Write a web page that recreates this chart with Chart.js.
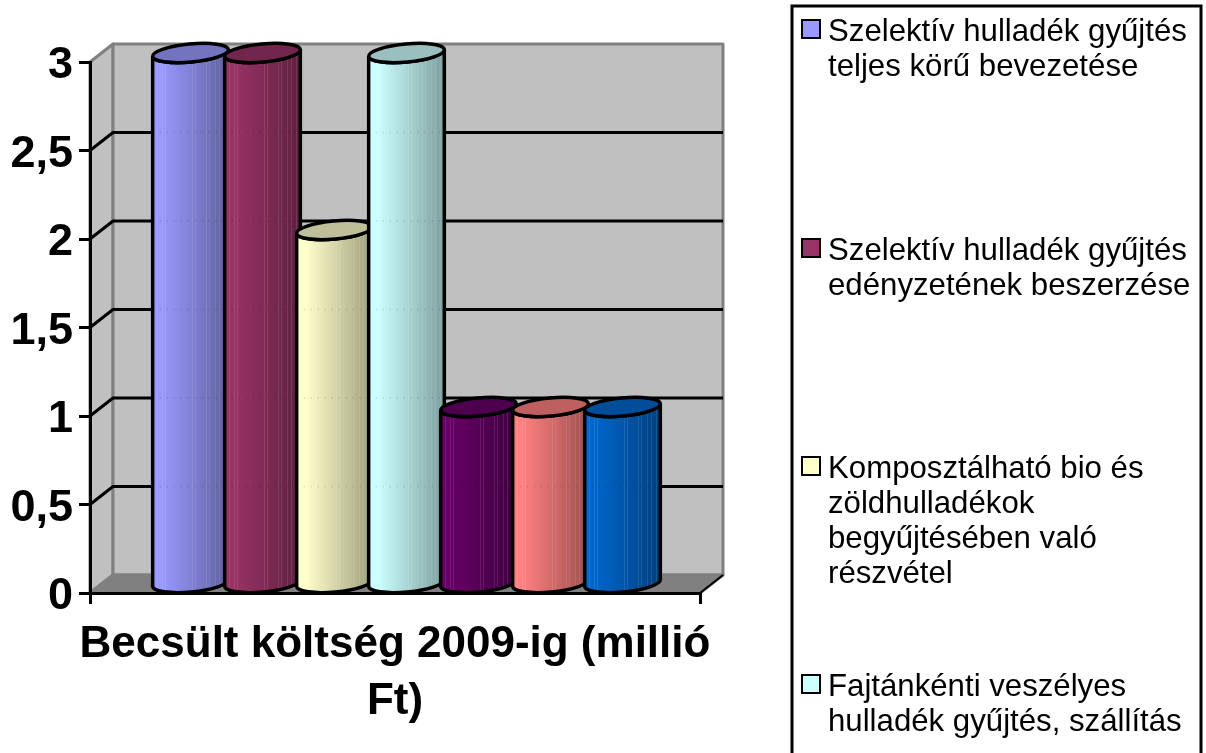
<!DOCTYPE html>
<html>
<head>
<meta charset="utf-8">
<title>Becsült költség</title>
<script src="https://cdn.jsdelivr.net/npm/chart.js@4"></script>
<style>
    html, body { margin: 0; padding: 0; background: #fff; overflow: hidden; }
    #wrap { position: relative; width: 1206px; height: 753px; }
</style>
</head>
<body>
<div id="wrap"><canvas id="chart"></canvas></div>
<script>
const categoryLabel = ["Becsült költség 2009-ig (millió", "Ft)"];
const seriesNames = [
    ["Szelektív hulladék gyűjtés", "teljes körű bevezetése"],
    ["Szelektív hulladék gyűjtés", "edényzetének beszerzése"],
    ["Komposztálható bio és", "zöldhulladékok", "begyűjtésében való", "részvétel"],
    ["Fajtánkénti veszélyes", "hulladék gyűjtés, szállítás"],
];
const seriesValues = [3, 3, 2, 3, 1, 1, 1];
const seriesColors = ["#9999FF", "#993366", "#FFFFCC", "#CCFFFF", "#660066", "#FF8080", "#0066CC"];
const gridValues = [0.5, 1, 1.5, 2, 2.5];
const legendBaselines = [41, 260, 478, 696];

const DEPTH_X = 23;
const DEPTH_Y = 18;
const TILT = -5.3 * Math.PI / 180;
const STREAKS = [0.06, 0.12, 0.16, 0.52, 0.56, 0.7, 0.74, 0.82, 0.88, 0.94];

function shade(hex, f) {
    const n = parseInt(hex.slice(1), 16);
    const r = Math.round((n >> 16 & 255) * f);
    const g = Math.round((n >> 8 & 255) * f);
    const b = Math.round((n & 255) * f);
    return `rgb(${r}, ${g}, ${b})`;
}

function drawWalls(chart) {
    const ctx = chart.ctx;
    const { left, right, top, bottom } = chart.chartArea;
    const y = chart.scales.y;
    const dx = DEPTH_X, dy = DEPTH_Y;

    ctx.save();
    ctx.fillStyle = "#C0C0C0";
    ctx.strokeStyle = "#808080";
    ctx.lineWidth = 3;
    ctx.lineJoin = "round";

    // side wall
    ctx.beginPath();
    ctx.moveTo(left, top);
    ctx.lineTo(left + dx, top - dy);
    ctx.lineTo(left + dx, bottom - dy);
    ctx.lineTo(left, bottom);
    ctx.closePath();
    ctx.fill();
    ctx.stroke();

    // back wall
    ctx.beginPath();
    ctx.rect(left + dx, top - dy, right - left, bottom - top);
    ctx.fill();
    ctx.stroke();

    // floor
    ctx.fillStyle = "#808080";
    ctx.beginPath();
    ctx.moveTo(left, bottom);
    ctx.lineTo(left + dx, bottom - dy);
    ctx.lineTo(right + dx, bottom - dy);
    ctx.lineTo(right, bottom);
    ctx.closePath();
    ctx.fill();
    ctx.stroke();

    ctx.strokeStyle = "#000";
    ctx.lineWidth = 2;
    ctx.beginPath();
    ctx.moveTo(right, bottom);
    ctx.lineTo(right + dx, bottom - dy);
    ctx.stroke();

    // gridlines
    ctx.lineWidth = 3;
    gridValues.forEach(v => {
        const py = y.getPixelForValue(v);
        ctx.beginPath();
        ctx.moveTo(left, py);
        ctx.lineTo(left + dx, py - dy);
        ctx.lineTo(right + dx, py - dy);
        ctx.stroke();
    });
    ctx.restore();
}

function drawCylinder(ctx, bar, yScale, color) {
    const base = yScale.getPixelForValue(0);
    const cx = bar.x + DEPTH_X / 2;
    const rx = bar.width / 2 + 2;
    const ry = 9;
    const topY = bar.y - DEPTH_Y / 2;
    const botY = base - DEPTH_Y / 2 - 1;
    const xl = cx - rx * Math.cos(TILT);
    const xr = cx + rx * Math.cos(TILT);

    const grad = ctx.createLinearGradient(xl, 0, xr, 0);
    grad.addColorStop(0, shade(color, 1));
    grad.addColorStop(0.12, shade(color, 1));
    grad.addColorStop(0.5, shade(color, 0.84));
    grad.addColorStop(1, shade(color, 0.62));

    const body = new Path2D();
    body.ellipse(cx, botY, rx, ry, TILT, Math.PI, 0, true);
    body.ellipse(cx, topY, rx, ry, TILT, 0, Math.PI, false);
    body.closePath();

    ctx.save();
    ctx.fillStyle = grad;
    ctx.fill(body);

    // banding of the cylinder faces, and the gridlines dotted through them
    ctx.save();
    ctx.clip(body);
    ctx.strokeStyle = "rgba(255, 255, 255, 0.1)";
    ctx.lineWidth = 1;
    STREAKS.forEach(s => {
        const sx = Math.round(xl + (xr - xl) * s) + 0.5;
        ctx.beginPath();
        ctx.moveTo(sx, topY);
        ctx.lineTo(sx, botY + ry + 4);
        ctx.stroke();
    });
    ctx.strokeStyle = "rgba(0, 0, 0, 0.15)";
    ctx.lineWidth = 2;
    ctx.setLineDash([1, 6]);
    gridValues.forEach(v => {
        const py = yScale.getPixelForValue(v) - DEPTH_Y;
        ctx.beginPath();
        ctx.moveTo(xl, py);
        ctx.lineTo(xr, py);
        ctx.stroke();
    });
    ctx.restore();

    ctx.strokeStyle = "#000";
    ctx.lineWidth = 3.5;
    ctx.stroke(body);

    ctx.beginPath();
    ctx.ellipse(cx, topY, rx, ry, TILT, 0, Math.PI * 2);
    ctx.fillStyle = shade(color, 0.75);
    ctx.fill();
    ctx.stroke();
    ctx.restore();
}

function drawLegend(chart) {
    const ctx = chart.ctx;
    ctx.save();
    ctx.strokeStyle = "#000";
    ctx.lineWidth = 3;
    ctx.strokeRect(792, 6, 409, 760);

    ctx.font = "31.2px 'Liberation Sans'";
    ctx.textAlign = "left";
    ctx.textBaseline = "alphabetic";
    seriesNames.forEach((lines, i) => {
        const base = legendBaselines[i];
        ctx.fillStyle = seriesColors[i];
        ctx.fillRect(802, base - 21, 18, 18);
        ctx.lineWidth = 2;
        ctx.strokeRect(802, base - 21, 18, 18);
        ctx.fillStyle = "#000";
        lines.forEach((line, k) => ctx.fillText(line, 828, base + k * 35));
    });
    ctx.restore();
}

const cylinderPlugin = {
    id: "cylinders",
    beforeDraw(chart) {
        drawWalls(chart);
    },
    beforeDatasetDraw() {
        return false;
    },
    afterDatasetsDraw(chart) {
        chart.data.datasets.forEach((ds, i) => {
            drawCylinder(chart.ctx, chart.getDatasetMeta(i).data[0], chart.scales.y, seriesColors[i]);
        });
    },
    afterDraw(chart) {
        drawLegend(chart);
    },
};

new Chart(document.getElementById("chart"), {
    type: "bar",
    plugins: [cylinderPlugin],
    data: {
        labels: [categoryLabel],
        datasets: seriesValues.map((v, i) => ({
            label: seriesNames[i] ? seriesNames[i].join(" ") : "",
            data: [v],
            backgroundColor: seriesColors[i],
        })),
    },
    options: {
        responsive: true,
        maintainAspectRatio: false,
        animation: false,
        events: [],
        devicePixelRatio: 1,
        layout: { padding: { left: 0, top: 62, right: 506, bottom: 0 } },
        datasets: { bar: { categoryPercentage: 504 / 610, barPercentage: 1 } },
        plugins: {
            legend: { display: false },
            title: { display: false },
            tooltip: { enabled: false },
        },
        scales: {
            x: {
                afterFit(scale) { scale.height = 160; },
                border: { color: "#000", width: 3 },
                grid: { drawOnChartArea: false, color: "#000", lineWidth: 3, tickLength: 11 },
                ticks: {
                    color: "#000",
                    maxRotation: 0,
                    minRotation: 0,
                    padding: 13,
                    font: { family: "'Liberation Sans'", size: 44, weight: "bold", lineHeight: 1.28 },
                },
            },
            y: {
                min: 0,
                max: 3,
                afterFit(scale) { scale.width = 90; },
                border: { color: "#000", width: 3 },
                grid: { drawOnChartArea: false, color: "#000", lineWidth: 3, tickLength: 11 },
                ticks: {
                    stepSize: 0.5,
                    color: "#000",
                    padding: 6,
                    labelOffset: 4,
                    font: { family: "'Liberation Sans'", size: 45, weight: "bold" },
                    callback: v => String(v).replace(".", ","),
                },
            },
        },
    },
});
</script>
</body>
</html>
